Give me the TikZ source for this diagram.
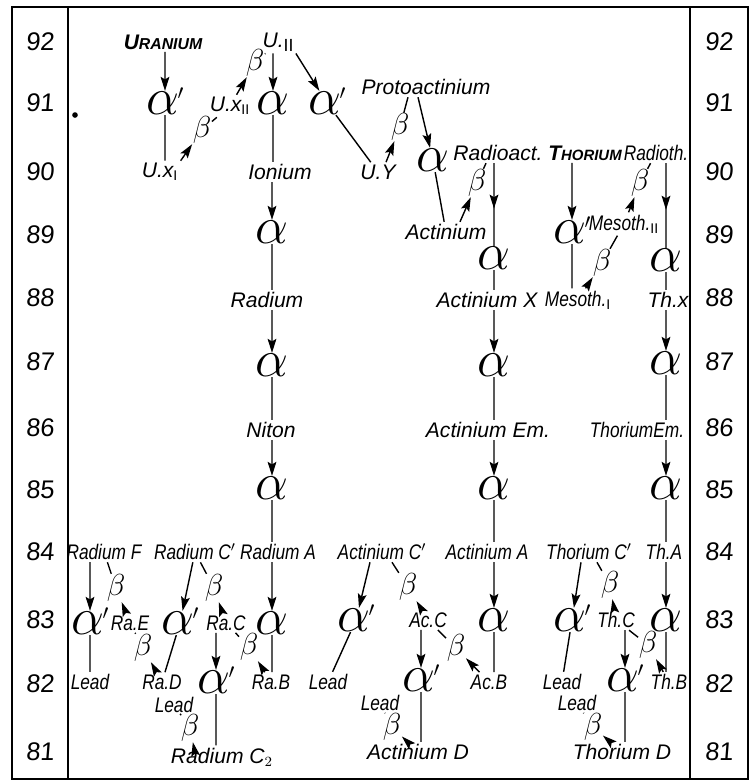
\documentclass[tikz,border=0pt]{standalone}
\usepackage{fontspec}
\setmainfont{Liberation Sans}
\newfontfamily\narrowfont{Liberation Sans}[FakeStretch=0.82]
\newfontfamily\numfont{Liberation Sans}[FakeSlant=0.08]
\usetikzlibrary{arrows.meta,calc,decorations.markings}
\newcommand{\alphap}{$\alpha$\kern-1pt\raisebox{7pt}[0pt][0pt]{\normalsize$\prime$}}

\begin{document}
\begin{tikzpicture}[x=0.02cm,y=-0.02cm,line width=.8pt,
  lab/.style={font=\fontsize{12}{14}\selectfont\itshape,inner sep=1pt},
  labn/.style={font=\fontsize{12}{14}\narrowfont\itshape,inner sep=1pt},
  al/.style={font=\Huge,inner sep=0pt,scale=1.2},
  be/.style={font=\LARGE,inner sep=0pt},
  num/.style={font=\fontsize{14.5}{16}\numfont},
  arr/.style={-{Stealth[length=8pt,width=5pt,inset=1.5pt]}},
  midarr/.style={postaction={decorate},decoration={markings,mark=at position .55 with {\arrow{Stealth[length=8pt,width=5pt,inset=1.5pt]}}}}]
\useasboundingbox (0,0) rectangle (751,782);
\draw (12,7) rectangle (748,779);
\draw (68,7) -- (68,779);
\draw (690,7) -- (690,779);
\foreach \n/\y in {92/42,91/103,90/172,89/235,88/298,87/362,86/428,85/490,84/552,83/620,82/684,81/752}{
  \node[num] (l\n) at (40,\y) {\n};
  \node[num] (r\n) at (719,\y) {\n};
}
\fill (75,115) circle (1.6pt);

\node[lab] (uran) at (163,42) {\bfseries U{\fontsize{9}{10}\selectfont RANIUM}};
\node[al] (ua1) at (165,103) {\alphap};
\node[lab] (ux1) at (160,172) {U.x$_\mathrm{I}$};
\node[be] (ub1) at (202,130) {$\beta$};
\node[lab] (ux2) at (230,106) {U.x$_\mathrm{II}$};
\node[be] (ub2) at (255,63) {$\beta$};
\node[lab] (u2) at (278,42) {U.\raisebox{-2pt}{\fontsize{10}{10}\selectfont$\mathrm{II}$}};
\node[al] (ua2) at (273,103) {$\alpha$};
\node[al] (ua3) at (327,103) {\alphap};
\node[lab] (ion) at (280,172) {Ionium};
\node[lab] (uy) at (378,172) {U.Y};
\node[lab] (proto) at (426,87) {Protoactinium};
\node[be] (pb) at (400,127) {$\beta$};
\node[al] (pa) at (433,160) {$\alpha$};
\node[lab] (act) at (446,232) {Actinium};
\node[be] (rb) at (477,183) {$\beta$};
\node[lab] (radact) at (498,153) {Radioact.};
\node[al] (ra1) at (494,258) {$\alpha$};
\node[lab] (acx) at (487,300) {Actinium X};
\node[al] (ra2) at (494,365) {$\alpha$};
\node[lab] (acem) at (488,430) {Actinium Em.};
\node[al] (ra3) at (494,488) {$\alpha$};
\node[labn] (aca) at (487,552) {Actinium A};

\node[al] (ia1) at (272,232) {$\alpha$};
\node[lab] (radium) at (267,300) {Radium};
\node[al] (ia2) at (272,365) {$\alpha$};
\node[lab] (niton) at (271,430) {Niton};
\node[al] (ia3) at (272,488) {$\alpha$};
\node[labn] (rada) at (278,552) {Radium A};

\node[lab] (thor) at (585,153) {\bfseries T{\fontsize{8.5}{10}\selectfont HORIUM}};
\node[al] (ta1) at (572,232) {\alphap};
\node[labn] (ms1) at (578,300) {Mesoth.$_\mathrm{I}$};
\node[be] (mb1) at (602,263) {$\beta$};
\node[labn] (ms2) at (624,224) {Mesoth.$_\mathrm{II}$};
\node[be] (mb2) at (640,183) {$\beta$};
\node[labn] (radth) at (656,153) {Radioth.};
\node[al] (ta2) at (666,260) {$\alpha$};
\node[lab] (thx) at (668,300) {Th.x};
\node[al] (ta3) at (666,363) {$\alpha$};
\node[labn] (them) at (637,430) {ThoriumEm.};
\node[al] (ta4) at (666,488) {$\alpha$};
\node[labn] (tha) at (664,552) {Th.A};

\node[labn] (radf) at (104,552) {Radium F};
\node[labn] (radc1) at (195,552) {Radium C$'$};
\node[al] (fa) at (90,623) {\alphap};
\node[be] (fb) at (116,588) {$\beta$};
\node[labn] (rae) at (130,623) {Ra.E};
\node[be] (eb) at (143,648) {$\beta$};
\node[labn] (lead1) at (90,682) {Lead};
\node[labn] (rad) at (162,682) {Ra.D};
\node[al] (ca1) at (180,623) {\alphap};
\node[be] (cb) at (214,588) {$\beta$};
\node[labn] (rac) at (226,623) {Ra.C};
\node[al] (ca2) at (216,682) {\alphap};
\node[be] (cbb) at (249,647) {$\beta$};
\node[al] (raa) at (272,623) {$\alpha$};
\node[labn] (rab) at (271,682) {Ra.B};
\node[labn] (lead2) at (174,705) {Lead};
\node[be] (c2b) at (190,728) {$\beta$};
\node[lab] (rc2) at (222,757) {Radium C$_2$};

\node[labn] (acc1) at (382,552) {Actinium C$'$};
\node[al] (xa1) at (356,620) {\alphap};
\node[be] (xb1) at (408,587) {$\beta$};
\node[labn] (lead3) at (328,682) {Lead};
\node[labn] (acC) at (428,620) {Ac.C};
\node[al] (xa2) at (421,680) {\alphap};
\node[be] (xb2) at (456,648) {$\beta$};
\node[al] (xaa) at (494,620) {$\alpha$};
\node[labn] (acB) at (489,682) {Ac.B};
\node[labn] (lead4) at (380,703) {Lead};
\node[be] (xb3) at (392,727) {$\beta$};
\node[lab] (acD) at (418,752) {Actinium D};

\node[labn] (thc1) at (589,552) {Thorium C$'$};
\node[al] (ya1) at (572,620) {\alphap};
\node[be] (yb1) at (610,585) {$\beta$};
\node[labn] (lead5) at (562,682) {Lead};
\node[labn] (thC) at (616,620) {Th.C};
\node[al] (ya2) at (625,680) {\alphap};
\node[be] (yb2) at (648,645) {$\beta$};
\node[al] (yaa) at (666,620) {$\alpha$};
\node[labn] (thB) at (669,682) {Th.B};
\node[labn] (lead6) at (577,703) {Lead};
\node[be] (yb3) at (593,727) {$\beta$};
\node[lab] (thD) at (622,752) {Thorium D};

\draw[arr] (uran.south -| ua1) -- (ua1);
\draw (ua1) -- (ua1 |- ux1.north);
\draw[arr] (ux1.north east) -- (ub1);
\draw (ub1) -- (ux2);
\draw[arr] (ux2) -- (ub2);
\draw (ub2) -- (u2);
\draw[arr] (u2.south -| ua2) -- (ua2);
\draw[arr] (u2.south east) -- (ua3);
\draw (ua2) -- (ua2 |- ion.north);
\draw (ua3) -- (uy);
\draw[arr] ($(uy.north)+(8,0)$) -- (pb);
\draw (pb) -- ($(proto.south)+(-18,0)$);
\draw[arr] ($(proto.south)+(-8,0)$) -- (pa);
\draw (pa) -- (act);
\draw[arr] ($(act.north)+(14,0)$) -- (rb);
\draw (rb) -- ($(radact.south)+(-12,0)$);
\draw[midarr] (radact.south -| ra1) -- (ra1);
\draw (ra1) -- (ra1 |- acx.north);
\draw[arr] (acx.south -| ra2) -- (ra2);
\draw (ra2) -- (ra2 |- acem.north);
\draw[arr] (acem.south -| ra3) -- (ra3);
\draw (ra3) -- (ra3 |- aca.north);
\draw[arr] (aca.south -| xaa) -- (xaa);
\draw (xaa) -- (xaa |- acB.north);

\draw[arr] (ion.south -| ia1) -- (ia1);
\draw (ia1) -- (ia1 |- radium.north);
\draw[arr] (radium.south -| ia2) -- (ia2);
\draw (ia2) -- (ia2 |- niton.north);
\draw[arr] (niton.south -| ia3) -- (ia3);
\draw (ia3) -- (ia3 |- rada.north);
\draw[arr] (rada.south -| raa) -- (raa);
\draw (raa) -- (raa |- rab.north);

\draw[arr] (thor.south -| ta1) -- (ta1);
\draw (ta1) -- (ta1 |- ms1.north);
\draw[arr] (ms1) -- (mb1);
\draw (mb1) -- (ms2);
\draw[arr] (ms2) -- (mb2);
\draw (mb2) -- (radth);
\draw[midarr] (radth.south -| ta2) -- (ta2);
\draw (ta2) -- (ta2 |- thx.north);
\draw[arr] (thx.south -| ta3) -- (ta3);
\draw (ta3) -- (ta3 |- them.north);
\draw[arr] (them.south -| ta4) -- (ta4);
\draw (ta4) -- (ta4 |- tha.north);
\draw[arr] (tha.south -| yaa) -- (yaa);
\draw (yaa) -- (yaa |- thB.north);

\draw[arr] (rab) -- (cbb);
\draw (cbb) -- (rac);
\draw[arr] (rac) -- (cb);
\draw (cb) -- (radc1);
\draw[arr] (radc1) -- (ca1);
\draw (ca1) -- (rad);
\draw[arr] (rac.south -| ca2) -- (ca2);
\draw (ca2) -- (ca2 |- rc2.north);
\draw[arr] ($(rc2.north west)+(25,0)$) -- (c2b);
\draw (c2b) -- (lead2);
\draw[arr] (rad) -- (eb);
\draw (eb) -- (rae);
\draw[arr] (rae) -- (fb);
\draw (fb) -- (radf);
\draw[arr] (radf.south -| fa) -- (fa);
\draw (fa) -- (fa |- lead1.north);

\draw[arr] ($(acc1.south)+(-12,0)$) -- (xa1);
\draw (xa1) -- (lead3);
\draw ($(acc1.south)+(10,0)$) -- (xb1);
\draw[arr] (acC) -- (xb1);
\draw[arr] (acC.south -| xa2) -- (xa2);
\draw (acC) -- (xb2);
\draw[arr] (acB) -- (xb2);
\draw (xa2) -- (xa2 |- acD.north);
\draw[arr] (acD) -- (xb3);
\draw (xb3) -- (lead4);

\draw[arr] ($(thc1.south)+(-8,0)$) -- (ya1);
\draw (ya1) -- (lead5);
\draw ($(thc1.south)+(8,0)$) -- (yb1);
\draw[arr] (thC) -- (yb1);
\draw[arr] (thC.south -| ya2) -- (ya2);
\draw (thC) -- (yb2);
\draw[arr] (thB) -- (yb2);
\draw (ya2) -- (ya2 |- thD.north);
\draw[arr] (thD) -- (yb3);
\draw (yb3) -- (lead6);
\end{tikzpicture}
\end{document}
